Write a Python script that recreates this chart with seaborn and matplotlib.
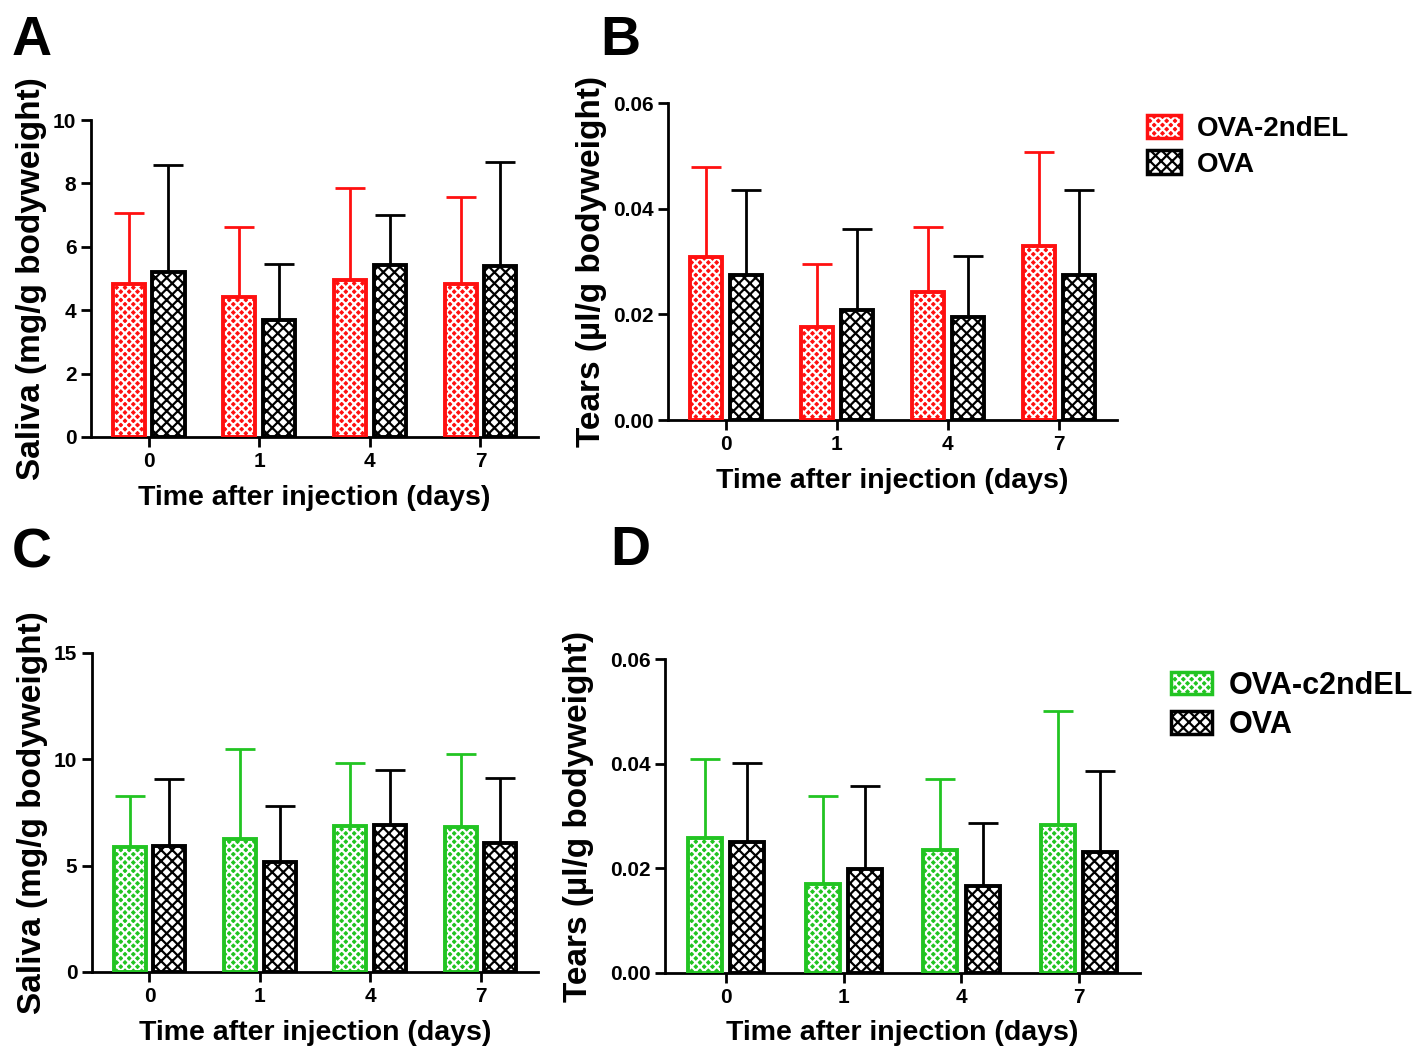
import numpy as np
import pandas as pd
import seaborn as sns
import matplotlib.pyplot as plt
from matplotlib.patches import Patch

# 数据：均值和标准差（只画上半误差棒）
days = ['0', '1', '4', '7']

saliva_el = [4.83, 4.42, 4.95, 4.83]
saliva_el_sd = [2.24, 2.20, 2.90, 2.74]
saliva_ova = [5.20, 3.69, 5.43, 5.39]
saliva_ova_sd = [3.38, 1.77, 1.57, 3.29]

tears_el = [0.0309, 0.0177, 0.0242, 0.0330]
tears_el_sd = [0.0171, 0.0118, 0.0124, 0.0177]
tears_ova = [0.0274, 0.0208, 0.0196, 0.0274]
tears_ova_sd = [0.0162, 0.0154, 0.0114, 0.0162]

saliva_cel = [5.85, 6.27, 6.84, 6.79]
saliva_cel_sd = [2.40, 4.20, 2.97, 3.45]
saliva_ova2 = [5.90, 5.19, 6.93, 6.04]
saliva_ova2_sd = [3.16, 2.59, 2.55, 3.06]

tears_cel = [0.0258, 0.0170, 0.0235, 0.0283]
tears_cel_sd = [0.0151, 0.0168, 0.0136, 0.0218]
tears_ova2 = [0.0250, 0.0199, 0.0166, 0.0231]
tears_ova2_sd = [0.0151, 0.0158, 0.0121, 0.0155]

RED = '#ff1010'
GREEN = '#22c422'

sns.set_style('ticks')
plt.rcParams['font.family'] = ['Liberation Sans', 'DejaVu Sans']
plt.rcParams['font.weight'] = 'bold'
plt.rcParams['axes.labelweight'] = 'bold'
plt.rcParams['hatch.linewidth'] = 1.6
for k in ['text.color', 'axes.labelcolor', 'xtick.color', 'ytick.color', 'axes.edgecolor']:
    plt.rcParams[k] = 'black'

fig = plt.figure(figsize=(14.27, 10.53), dpi=100)


def panel(rect, g1, g1_sd, g2, g2_sd, name1, color, ylim, yticks, yfmt, ylabel, lab_x):
    ax = fig.add_axes(rect)
    df = pd.DataFrame({'day': days * 2,
                       'value': g1 + g2,
                       'group': [name1] * 4 + ['OVA'] * 4})
    sns.barplot(data=df, x='day', y='value', hue='group', ax=ax,
                palette=[color, 'white'], width=0.72, gap=0.195,
                errorbar=None, legend=False, linewidth=0)
    bars = sorted(ax.patches, key=lambda p: p.get_x())
    sds = [s for pair in zip(g1_sd, g2_sd) for s in pair]
    cols = [color, 'black'] * 4
    for p, sd, c in zip(bars, sds, cols):
        xc = p.get_x() + p.get_width() / 2
        h = p.get_height()
        if c == 'black':
            p.set_facecolor('white')
            p.set_edgecolor('black')
            p.set_hatch('xxx')
        else:
            p.set_facecolor(c)
            p.set_edgecolor('white')
            p.set_hatch('xxxx')
        p.set_linewidth(0)
        ax.errorbar([xc], [h], yerr=[[0], [sd]], color=c, lw=2, capsize=11,
                    capthick=2, zorder=1)
    # 外框
    sns.barplot(data=df, x='day', y='value', hue='group', ax=ax,
                palette=[color, 'black'], width=0.72, gap=0.195,
                errorbar=None, legend=False, fill=False, linewidth=2.8)
    for p in ax.patches:
        p.set_zorder(3)
    ax.set_ylim(*ylim)
    ax.set_xlim(-0.52, 3.52)
    ax.set_yticks(yticks)
    ax.set_yticklabels([yfmt.format(t) for t in yticks])
    ax.set_xlabel('Time after injection (days)', fontsize=20.5)
    ax.set_ylabel(ylabel, fontsize=24)
    ax.yaxis.set_label_coords(lab_x, 0.5)
    ax.xaxis.set_label_coords(0.5, -0.15)
    ax.tick_params(labelsize=15, width=2, length=7, color='black')
    for s in ['left', 'bottom']:
        ax.spines[s].set_linewidth(2)
    sns.despine(ax=ax)
    return ax


panel([0.0638, 0.585, 0.3132, 0.301], saliva_el, saliva_el_sd, saliva_ova, saliva_ova_sd,
      'OVA-2ndEL', RED, (0, 10), [0, 2, 4, 6, 8, 10], '{:g}', 'Saliva (mg/g bodyweight)', -0.098)
panel([0.468, 0.601, 0.3146, 0.301], tears_el, tears_el_sd, tears_ova, tears_ova_sd,
      'OVA-2ndEL', RED, (0, 0.06), [0, 0.02, 0.04, 0.06], '{:.2f}', 'Tears (µl/g bodyweight)', -0.136)
panel([0.0645, 0.077, 0.3125, 0.303], saliva_cel, saliva_cel_sd, saliva_ova2, saliva_ova2_sd,
      'OVA-c2ndEL', GREEN, (0, 15), [0, 5, 10, 15], '{:g}', 'Saliva (mg/g bodyweight)', -0.099)
panel([0.466, 0.076, 0.333, 0.298], tears_cel, tears_cel_sd, tears_ova2, tears_ova2_sd,
      'OVA-c2ndEL', GREEN, (0, 0.06), [0, 0.02, 0.04, 0.06], '{:.2f}', 'Tears (µl/g bodyweight)', -0.149)


def legend(label, color, pos, size, hl, hh):
    h1 = Patch(facecolor=color, edgecolor='white', hatch='xxxx', lw=0)
    h2 = Patch(facecolor='white', edgecolor='black', hatch='xxx', lw=0)
    o1 = Patch(facecolor='none', edgecolor=color, lw=2.5)
    o2 = Patch(facecolor='none', edgecolor='black', lw=2.5)
    fig.legend([(h1, o1), (h2, o2)], [label, 'OVA'], loc='upper left',
               bbox_to_anchor=pos, frameon=False, prop={'size': size, 'weight': 'bold'},
               handlelength=hl, handleheight=hh, labelspacing=0.3, handletextpad=0.55)


legend('OVA-2ndEL', RED, (0.786, 0.915), 20, 1.25, 0.95)
legend('OVA-c2ndEL', GREEN, (0.801, 0.389), 22, 1.35, 0.75)

for letter, x, y in [('A', 12, 55), ('B', 600, 55), ('C', 12, 567), ('D', 610, 565)]:
    fig.text(x / 1427, 1 - y / 1053, letter, fontsize=40, fontweight='bold',
             ha='left', va='baseline')

fig.savefig('out.png', dpi=100)
